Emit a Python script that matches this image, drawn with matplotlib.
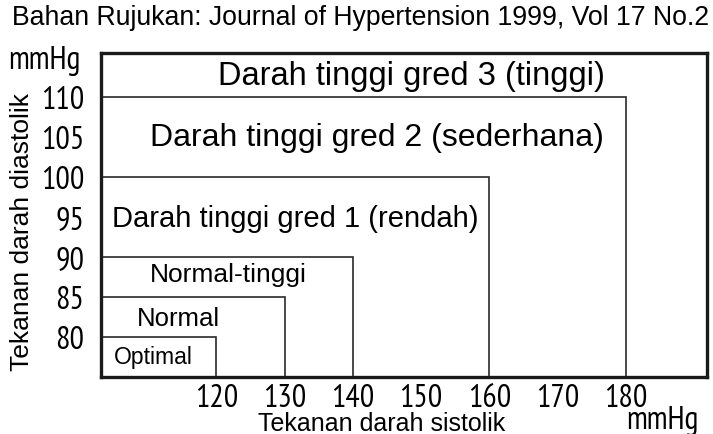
import matplotlib
matplotlib.use("Agg")
import matplotlib.pyplot as plt
from matplotlib.patches import Rectangle
from matplotlib import font_manager
from matplotlib.font_manager import FontProperties

# Blood pressure categories (upper bounds, mmHg)
categories = ["Optimal", "Normal", "Normal-tinggi",
              "Darah tinggi gred 1 (rendah)",
              "Darah tinggi gred 2 (sederhana)",
              "Darah tinggi gred 3 (tinggi)"]
systolic_upper = [120, 130, 140, 160, 180]
diastolic_upper = [80, 85, 90, 100, 110]
x_ticks = [120, 130, 140, 150, 160, 170, 180]
y_ticks = [80, 85, 90, 95, 100, 105, 110]

regular = "Liberation Sans"
plt.rcParams["font.family"] = [regular, "DejaVu Sans"]

HEAVY = ("bold", "medium", "black", "heavy", "extra", "thin", "italic", "oblique", "mono")


def narrow_font(size):
    """Pick a regular-weight condensed sans face if one is installed."""
    fonts = font_manager.fontManager.ttflist
    cands = []
    for f in fonts:
        fn = f.fname.lower()
        if ("narrow" in fn or "condensed" in fn) and "sans" in fn \
                and not any(w in fn for w in HEAVY):
            rank = 0 if "narrow" in fn else (1 if "regular" in fn else
                                             (2 if "light" not in fn else 3))
            cands.append((rank, f.fname))
    if cands:
        cands.sort()
        return FontProperties(fname=cands[0][1], size=size), True
    return FontProperties(family=regular, size=size), False


tick_fp, is_narrow = narrow_font(23)
if not is_narrow:
    tick_fp.set_size(17)
unit_fp = tick_fp.copy()
unit_fp.set_size(tick_fp.get_size())

fig = plt.figure(figsize=(7.13, 4.35), dpi=100)
ax = fig.add_axes([101 / 713, 1 - 378 / 435, 606 / 713, 324 / 435])
ax.set_xlim(103.1, 191.9)
ax.set_ylim(75.0, 115.5)

# nested category boxes, anchored at the lower-left corner of the chart
for s, d in zip(systolic_upper, diastolic_upper):
    ax.add_patch(Rectangle((0, 0), s, d, fill=False, edgecolor="#2a2a2a",
                           linewidth=1.2, zorder=2))

for sp in ax.spines.values():
    sp.set_linewidth(2.4)
    sp.set_color("#1a1a1a")

ax.set_xticks(x_ticks)
ax.set_yticks(y_ticks)
ax.set_xticklabels([str(v) for v in x_ticks], fontproperties=tick_fp)
ax.set_yticklabels([str(v) for v in y_ticks], fontproperties=tick_fp)
ax.tick_params(axis="both", length=0)
ax.tick_params(axis="x", pad=4)
ax.tick_params(axis="y", pad=12)

# category labels
label_pos = [(110.7, 77.5, 16.5), (114.4, 82.4, 18.5), (121.8, 87.9, 19),
             (131.6, 94.9, 21), (143.6, 105.0, 23), (148.6, 112.7, 23.5)]
for name, (x, y, fs) in zip(categories, label_pos):
    ax.text(x, y, name, ha="center", va="center", fontsize=fs, zorder=3)

fig.text(709 / 713, 1 - 18 / 435, "Bahan Rujukan: Journal of Hypertension 1999, Vol 17 No.2",
         ha="right", va="center", fontsize=19.2)
fig.text(44 / 713, 1 - 61 / 435, "mmHg", ha="center", va="center",
         fontproperties=unit_fp)
fig.text(662 / 713, 1 - 421 / 435, "mmHg", ha="center", va="center",
         fontproperties=unit_fp)
fig.text(382 / 713, 1 - 424 / 435, "Tekanan darah sistolik", ha="center", va="center",
         fontsize=18)
fig.text(22 / 713, 1 - 232 / 435, "Tekanan darah diastolik", ha="center", va="center",
         rotation=90, fontsize=19)

fig.savefig("out.png", dpi=100)
